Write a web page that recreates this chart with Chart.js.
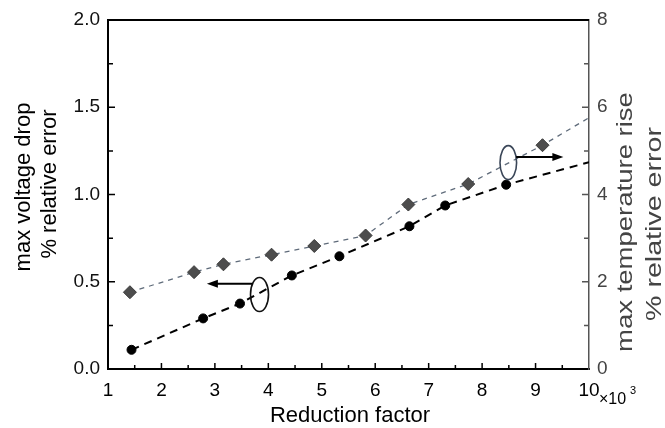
<!DOCTYPE html>
<html>
<head>
<meta charset="utf-8">
<script src="https://cdn.jsdelivr.net/npm/chart.js@4.4.1/dist/chart.umd.min.js"></script>
<style>
    html, body { margin: 0; padding: 0; background: #fff; }
    #wrap { width: 665px; height: 428px; position: relative; }
</style>
</head>
<body>
<div id="wrap"><canvas id="chart"></canvas></div>
<script>
// max voltage drop (left axis, circles)
const voltageX = [1.44, 2.78, 3.47, 4.44, 5.33, 6.64, 7.31, 8.45, 10];
const voltageY = [0.11, 0.29, 0.375, 0.536, 0.646, 0.818, 0.937, 1.056, 1.185];

// max temperature rise (right axis, diamonds)
const tempX = [1.41, 2.61, 3.16, 4.06, 4.86, 5.82, 6.62, 7.74, 9.13, 10];
const tempY = [1.76, 2.22, 2.40, 2.62, 2.82, 3.06, 3.77, 4.24, 5.13, 5.76];

// tick labels
const xTicks = [1, 2, 3, 4, 5, 6, 7, 8, 9, 10];
const leftTicks = [0, 0.5, 1.0, 1.5, 2.0];
const rightTicks = [0, 2, 4, 6, 8];

// ellipse + arrow markers, in data units
const markers = [
    { axis: 'y', cx: 3.835, cy: 0.427, rx: 9, ry: 17, tipX: 2.85, tipY: 0.488, side: -1, color: '#111' },
    { axis: 'y1', cx: 8.49, cy: 4.73, rx: 8.3, ry: 17, tipX: 9.52, tipY: 4.86, side: 1, color: '#3a4658' }
];

function lastHidden(arr, r) {
    return arr.map((v, i) => i === arr.length - 1 ? 0 : r);
}

function drawText(ctx, text, x, y, rot, font, color, sx) {
    ctx.save();
    ctx.translate(x, y);
    ctx.rotate(rot);
    ctx.scale(sx || 1, 1);
    ctx.font = font;
    ctx.fillStyle = color;
    ctx.textAlign = 'center';
    ctx.textBaseline = 'middle';
    ctx.fillText(text, 0, 0);
    ctx.restore();
}

// inward ticks, frame top, titles, markers
const decor = {
    id: 'decor',
    afterDraw(chart) {
        const ctx = chart.ctx;
        const a = chart.chartArea;
        const sx = chart.scales.x, sy = chart.scales.y, sy1 = chart.scales.y1;
        ctx.save();

        // top frame line
        ctx.strokeStyle = '#000';
        ctx.lineWidth = 2;
        ctx.beginPath();
        ctx.moveTo(a.left, a.top);
        ctx.lineTo(a.right, a.top);
        ctx.stroke();

        // x ticks
        ctx.lineWidth = 1.5;
        ctx.beginPath();
        for (let v = 1.5; v < 10; v += 0.5) {
            const p = sx.getPixelForValue(v);
            const len = Number.isInteger(v) ? 6 : 4;
            ctx.moveTo(p, a.bottom);
            ctx.lineTo(p, a.bottom - len);
        }
        ctx.stroke();

        // left ticks
        ctx.beginPath();
        for (let v = 0.25; v < 2; v += 0.25) {
            const p = sy.getPixelForValue(v);
            const len = (v * 2) % 1 === 0 ? 7 : 5;
            ctx.moveTo(a.left, p);
            ctx.lineTo(a.left + len, p);
        }
        ctx.stroke();

        // right ticks
        ctx.strokeStyle = '#555';
        ctx.beginPath();
        for (let v = 1; v < 8; v += 1) {
            const p = sy1.getPixelForValue(v);
            const len = v % 2 === 0 ? 7 : 5;
            ctx.moveTo(a.right, p);
            ctx.lineTo(a.right - len, p);
        }
        ctx.stroke();

        // ellipses and arrows
        markers.forEach(m => {
            const ys = chart.scales[m.axis];
            const cx = sx.getPixelForValue(m.cx), cy = ys.getPixelForValue(m.cy);
            const tx = sx.getPixelForValue(m.tipX), ty = ys.getPixelForValue(m.tipY);
            ctx.strokeStyle = m.color;
            ctx.lineWidth = 1.6;
            ctx.beginPath();
            ctx.ellipse(cx, cy, m.rx, m.ry, 0, 0, Math.PI * 2);
            ctx.stroke();

            const dy = ty - cy;
            const dx = m.rx * Math.sqrt(Math.max(0, 1 - (dy / m.ry) * (dy / m.ry)));
            const startX = cx + m.side * dx;
            const dir = m.side;
            ctx.strokeStyle = '#000';
            ctx.fillStyle = '#000';
            ctx.lineWidth = 2;
            ctx.beginPath();
            ctx.moveTo(startX, ty);
            ctx.lineTo(tx - dir * 8, ty);
            ctx.stroke();
            ctx.beginPath();
            ctx.moveTo(tx, ty);
            ctx.lineTo(tx - dir * 11, ty - 4);
            ctx.lineTo(tx - dir * 11, ty + 4);
            ctx.closePath();
            ctx.fill();
        });

        // axis titles
        const f = '22px "Liberation Sans", Arial, sans-serif';
        drawText(ctx, 'max voltage drop', 24, 187, -Math.PI / 2, f, '#000');
        drawText(ctx, '% relative error', 50, 184, -Math.PI / 2, f, '#000');
        drawText(ctx, 'max temperature rise', 626, 222, -Math.PI / 2, f, '#444', 1.25);
        drawText(ctx, '% relative error', 655, 224, -Math.PI / 2, f, '#444', 1.3);
        drawText(ctx, 'Reduction factor', 350, 416, 0, f, '#000');

        // x10^3 multiplier
        ctx.fillStyle = '#000';
        ctx.textAlign = 'left';
        ctx.textBaseline = 'alphabetic';
        ctx.font = '16px "Liberation Sans", Arial, sans-serif';
        ctx.fillText('\u00d710', 599, 404);
        ctx.font = '11px "Liberation Sans", Arial, sans-serif';
        ctx.fillText('3', 630, 394);

        ctx.restore();
    }
};

const tickFont = { family: '"Liberation Sans", Arial, sans-serif', size: 19 };

new Chart(document.getElementById('chart').getContext('2d'), {
    type: 'scatter',
    data: {
        datasets: [{
            label: 'max voltage drop',
            data: voltageX.map((x, i) => ({ x: x, y: voltageY[i] })),
            yAxisID: 'y',
            showLine: true,
            borderColor: '#000',
            borderWidth: 2,
            borderDash: [8, 6],
            backgroundColor: '#000',
            pointBackgroundColor: '#000',
            pointBorderColor: '#000',
            pointStyle: 'circle',
            pointRadius: lastHidden(voltageX, 4.5),
            pointBorderWidth: 1
        }, {
            label: 'max temperature rise',
            data: tempX.map((x, i) => ({ x: x, y: tempY[i] })),
            yAxisID: 'y1',
            showLine: true,
            borderColor: '#5f6b7a',
            borderWidth: 1.3,
            borderDash: [5, 5],
            pointBackgroundColor: '#4d4d4d',
            pointBorderColor: '#3a3a3a',
            pointStyle: 'rectRot',
            pointRadius: lastHidden(tempX, 6.5),
            pointBorderWidth: 1
        }]
    },
    options: {
        responsive: true,
        maintainAspectRatio: false,
        animation: false,
        layout: { padding: { top: 20, left: 0, right: 0, bottom: 0 } },
        plugins: {
            legend: { display: false },
            tooltip: { enabled: false }
        },
        scales: {
            x: {
                type: 'linear',
                min: 1,
                max: 10,
                afterBuildTicks: s => { s.ticks = xTicks.map(v => ({ value: v })); },
                afterFit: s => { s.height = 59; },
                grid: { display: false, drawTicks: false },
                border: { display: true, color: '#000', width: 2 },
                ticks: {
                    color: '#000',
                    font: tickFont,
                    padding: 10,
                    maxRotation: 0,
                    autoSkip: false,
                    callback: v => String(v)
                }
            },
            y: {
                type: 'linear',
                position: 'left',
                min: 0,
                max: 2,
                afterBuildTicks: s => { s.ticks = leftTicks.map(v => ({ value: v })); },
                afterFit: s => { s.width = 108; },
                grid: { display: false, drawTicks: false },
                border: { display: true, color: '#000', width: 2 },
                ticks: {
                    color: '#111',
                    font: tickFont,
                    padding: 8,
                    autoSkip: false,
                    callback: v => Number(v).toFixed(1)
                }
            },
            y1: {
                type: 'linear',
                position: 'right',
                min: 0,
                max: 8,
                afterBuildTicks: s => { s.ticks = rightTicks.map(v => ({ value: v })); },
                afterFit: s => { s.width = 76; },
                grid: { display: false, drawTicks: false },
                border: { display: true, color: '#555', width: 1.5 },
                ticks: {
                    color: '#444',
                    font: tickFont,
                    padding: 8,
                    autoSkip: false,
                    callback: v => String(v)
                }
            }
        }
    },
    plugins: [decor]
});
</script>
</body>
</html>
